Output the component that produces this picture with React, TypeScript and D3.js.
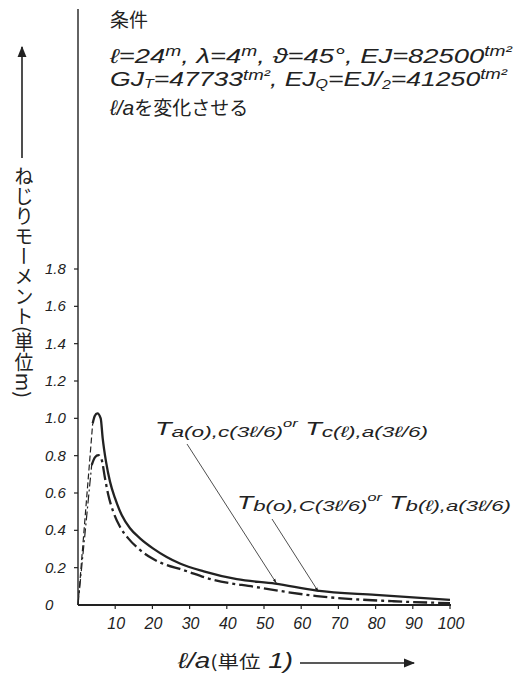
import React from "react";
import * as d3 from "d3";

const xTicks = [10, 20, 30, 40, 50, 60, 70, 80, 90, 100];
const yTicks = [0, 0.2, 0.4, 0.6, 0.8, 1.0, 1.2, 1.4, 1.6, 1.8];
const yTickLabels = ["0", "0.2", "0.4", "0.6", "0.8", "1.0", "1.2", "1.4", "1.6", "1.8"];

// T_a (upper, solid): l/a vs torsional moment
const upperX = [3.95, 4.5, 5.2, 6.1, 6.64, 7.53, 8.6, 9.95, 11.75, 13.98, 16.67, 20.24, 23.84, 27.4, 33.8, 42.7, 53, 64.2, 80, 100];
const upperY = [0.973, 1.012, 1.027, 1.0, 0.893, 0.768, 0.661, 0.572, 0.482, 0.411, 0.357, 0.302, 0.257, 0.222, 0.18, 0.138, 0.114, 0.077, 0.054, 0.028];
// T_b (lower, dash-dot)
const lowerX = [3.68, 4.6, 5.46, 6.37, 7.26, 8.15, 9.49, 11.29, 13.52, 16.67, 20.24, 23.84, 27.4, 36.5, 47.2, 64.2, 84.8, 100];
const lowerY = [0.75, 0.792, 0.803, 0.777, 0.679, 0.589, 0.499, 0.419, 0.357, 0.295, 0.246, 0.214, 0.193, 0.134, 0.098, 0.048, 0.02, 0.01];
// initial dashed rise from origin
const riseUpperX = [0, 3.95];
const riseUpperY = [0, 0.973];
const riseLowerX = [0, 3.68];
const riseLowerY = [0, 0.75];

const FONT = "'Liberation Sans', 'DejaVu Sans', sans-serif";
const JP = "'Noto Sans CJK JP', sans-serif";
const INK = "#222";

export default function App() {
  const x = d3.scaleLinear().domain([0, 100]).range([78, 450]);
  const y = d3.scaleLinear().domain([0, 1.8]).range([605, 269]);
  const line = d3
    .line<[number, number]>()
    .x((d) => x(d[0]))
    .y((d) => y(d[1]))
    .curve(d3.curveMonotoneX);
  const lin = d3
    .line<[number, number]>()
    .x((d) => x(d[0]))
    .y((d) => y(d[1]));
  const zip = (a: number[], b: number[]) => a.map((v, i) => [v, b[i]] as [number, number]);

  return (
    <svg width={518} height={675} style={{ position: "absolute", left: 0, top: 0, background: "#fff" }}>
      <defs>
        <marker id="ah" viewBox="0 0 10 10" refX="9" refY="5" markerWidth="7" markerHeight="7" orient="auto">
          <path d="M0,1 L10,5 L0,9 z" fill={INK} />
        </marker>
        <marker id="ahs" viewBox="0 0 10 10" refX="9" refY="5" markerWidth="6" markerHeight="6" orient="auto">
          <path d="M0,2 L10,5 L0,8 z" fill={INK} />
        </marker>
      </defs>

      {/* header text */}
      <g fill={INK} fontFamily={FONT} fontStyle="italic">
        <text x={110} y={27} fontFamily={JP} fontSize={19} fontStyle="normal">条件</text>
        <text x={110} y={63} fontSize={20} textLength={402} lengthAdjust="spacingAndGlyphs">
          ℓ=24<tspan fontSize={14} dy={-7}>m</tspan><tspan dy={7}>, λ=4</tspan>
          <tspan fontSize={14} dy={-7}>m</tspan><tspan dy={7}>, ϑ=45°, EJ=82500</tspan>
          <tspan fontSize={14} dy={-7}>tm²</tspan>
        </text>
        <text x={110} y={86} fontSize={20} textLength={397} lengthAdjust="spacingAndGlyphs">
          GJ<tspan fontSize={12} dy={2}>T</tspan><tspan dy={-2}>=47733</tspan>
          <tspan fontSize={14} dy={-6}>tm²</tspan><tspan dy={6}>, EJ</tspan>
          <tspan fontSize={12} dy={2}>Q</tspan><tspan dy={-2}>=EJ/</tspan>
          <tspan fontSize={12} dy={3}>2</tspan><tspan dy={-3}>=41250</tspan>
          <tspan fontSize={14} dy={-7}>tm²</tspan>
        </text>
        <text x={110} y={115} fontSize={21}>
          ℓ/a<tspan fontFamily={JP} fontStyle="normal" fontSize={19}>を変化させる</tspan>
        </text>
      </g>

      {/* y-axis title and arrow */}
      <line x1={22} y1={158} x2={22} y2={47} stroke={INK} strokeWidth={1.6} markerEnd="url(#ah)" />
      <text
        x={24}
        y={166}
        fill={INK}
        fontFamily={JP}
        fontSize={19}
        style={{ writingMode: "vertical-rl" } as any}
        textLength={232}
        lengthAdjust="spacingAndGlyphs"
      >
        ねじりモーメント(単位m)
      </text>

      {/* axes */}
      <line x1={x(0)} y1={9} x2={x(0)} y2={y(0)} stroke={INK} strokeWidth={1.4} />
      <line x1={x(0)} y1={y(0)} x2={x(100) + 1} y2={y(0)} stroke={INK} strokeWidth={1.8} />
      {yTicks.map((t, i) => (
        <g key={"y" + t}>
          {t > 0 && <line x1={x(0) - 4} x2={x(0)} y1={y(t)} y2={y(t)} stroke={INK} strokeWidth={1.2} />}
          <text x={45} y={y(t) + 5} fill={INK} fontFamily={FONT} fontStyle="italic" fontSize={15}>
            {yTickLabels[i]}
          </text>
        </g>
      ))}
      {xTicks.map((t) => (
        <g key={"x" + t}>
          <line x1={x(t)} x2={x(t)} y1={y(0)} y2={y(0) + 4} stroke={INK} strokeWidth={1.2} />
          <text x={x(t) + 1} y={629} fill={INK} textAnchor="middle" fontFamily={FONT} fontStyle="italic" fontSize={16}>
            {t}
          </text>
        </g>
      ))}

      {/* x-axis title and arrow */}
      <text x={178} y={668} fill={INK} fontFamily={FONT} fontStyle="italic" fontSize={22} textLength={115} lengthAdjust="spacingAndGlyphs">
        ℓ/a<tspan fontFamily={JP} fontStyle="normal" fontSize={17}>(単位</tspan>
        <tspan> 1)</tspan>
      </text>
      <line x1={300} y1={663} x2={414} y2={663} stroke={INK} strokeWidth={1.6} markerEnd="url(#ah)" />

      {/* curves */}
      <path d={lin(zip(riseUpperX, riseUpperY)) || ""} fill="none" stroke={INK} strokeWidth={1.2} strokeDasharray="6,3" />
      <path d={lin(zip(riseLowerX, riseLowerY)) || ""} fill="none" stroke={INK} strokeWidth={1.2} strokeDasharray="9,3,2,3" />
      <path d={line(zip(upperX, upperY)) || ""} fill="none" stroke={INK} strokeWidth={2.3} />
      <path d={line(zip(lowerX, lowerY)) || ""} fill="none" stroke={INK} strokeWidth={2.3} strokeDasharray="14,4,3,4" />

      {/* annotations */}
      <g fill={INK} fontFamily={FONT} fontStyle="italic">
        <text x={155} y={435} fontSize={18} textLength={273} lengthAdjust="spacingAndGlyphs">
          T<tspan fontSize={15} dy={2}>a(o),c(3ℓ/6)</tspan>
          <tspan fontSize={11} dy={-10}>or</tspan>
          <tspan dy={8}> T</tspan><tspan fontSize={15} dy={2}>c(ℓ),a(3ℓ/6)</tspan>
        </text>
        <text x={237} y={509} fontSize={18} textLength={274} lengthAdjust="spacingAndGlyphs">
          T<tspan fontSize={15} dy={2}>b(o),C(3ℓ/6)</tspan>
          <tspan fontSize={11} dy={-10}>or</tspan>
          <tspan dy={8}> T</tspan><tspan fontSize={15} dy={2}>b(ℓ),a(3ℓ/6)</tspan>
        </text>
      </g>
      <line x1={187} y1={444} x2={x(53.3)} y2={y(0.118)} stroke={INK} strokeWidth={0.8} markerEnd="url(#ahs)" />
      <line x1={272} y1={519} x2={x(64.6)} y2={y(0.072)} stroke={INK} strokeWidth={0.8} markerEnd="url(#ahs)" />
    </svg>
  );
}
